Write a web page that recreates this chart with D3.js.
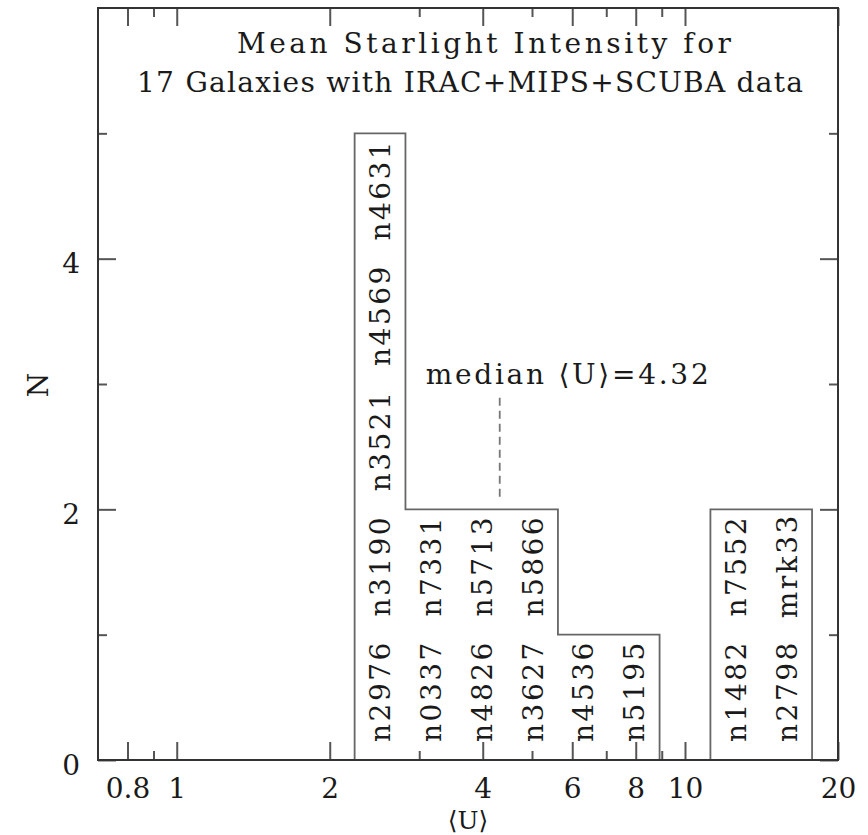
<!DOCTYPE html>
<html lang="en">
<head>
<meta charset="UTF-8"/>
<title>Mean Starlight Intensity</title>
<script src="https://d3js.org/d3.v7.min.js"></script>
<style>
  body { margin: 0; background: #fff; }
  svg text { font-family: "DejaVu Serif", serif; fill: #1a1a1a; font-size: 28px; }
  .tick line { stroke: #555; stroke-width: 2px; }
  .domain { display: none; }
  .step { fill: none; stroke: #666; stroke-width: 1.8px; }
  .frame { fill: none; stroke: #333; stroke-width: 2px; }
  .median { stroke: #777; stroke-width: 1.8px; stroke-dasharray: 8,5; }
</style>
</head>
<body>
<script>
var w = 868, h = 835;

// log10 <U> at the centre of each 0.1 dex bin
var binCentres = [0.4, 0.5, 0.6, 0.7, 0.8, 0.9, 1.1, 1.2];
var binCounts = [5, 2, 2, 2, 1, 1, 2, 2];
var binGalaxies = [
    ["n2976", "n3190", "n3521", "n4569", "n4631"],
    ["n0337", "n7331"],
    ["n4826", "n5713"],
    ["n3627", "n5866"],
    ["n4536"],
    ["n5195"],
    ["n1482", "n7552"],
    ["n2798", "mrk33"]
];
var binWidth = 0.1;
var medianU = 4.32;

var xMajor = [0.8, 1, 2, 4, 6, 8, 10, 20];
var xMinor = [0.9, 3, 5, 7, 9];
var yMajor = [0, 2, 4];
var yMinor = [1, 3, 5];

var titleLines = ["Mean Starlight Intensity for", "17 Galaxies with IRAC+MIPS+SCUBA data"];

var x = d3.scaleLog().domain([0.7, 20]).range([98, 838]);
var y = d3.scaleLinear().domain([0, 6]).range([760, 8]);

var svg = d3.select("body").append("svg")
    .attr("width", w)
    .attr("height", h);

// ticks (all pointing inward)
function addAxis(axis, tx, ty) {
    return svg.append("g")
        .attr("transform", "translate(" + tx + "," + ty + ")")
        .call(axis);
}
addAxis(d3.axisBottom(x).tickValues(xMajor).tickSize(-18).tickPadding(18)
    .tickFormat(d3.format("")), 0, y(0));
addAxis(d3.axisBottom(x).tickValues(xMinor).tickSize(-9).tickFormat(""), 0, y(0));
addAxis(d3.axisTop(x).tickValues(xMajor).tickSize(-18).tickFormat(""), 0, y(6));
addAxis(d3.axisTop(x).tickValues(xMinor).tickSize(-9).tickFormat(""), 0, y(6));

addAxis(d3.axisLeft(y).tickValues(yMajor).tickSize(-18).tickPadding(18)
    .tickFormat(d3.format("d")), x(0.7), 0)
    .selectAll("text").attr("dy", "0.5em");
addAxis(d3.axisLeft(y).tickValues(yMinor).tickSize(-9).tickFormat(""), x(0.7), 0);
addAxis(d3.axisRight(y).tickValues(yMajor).tickSize(-18).tickFormat(""), x(20), 0);
addAxis(d3.axisRight(y).tickValues(yMinor).tickSize(-9).tickFormat(""), x(20), 0);

// histogram outline, split where bins are not contiguous
var groups = [];
var prevHi = null;
binCentres.forEach(function(c, i) {
    var lo = c - binWidth / 2, hi = c + binWidth / 2;
    if (prevHi === null || Math.abs(lo - prevHi) > 1e-6) {
        if (groups.length) groups[groups.length - 1].push([prevHi, 0]);
        groups.push([[lo, 0]]);
    }
    var g = groups[groups.length - 1];
    g.push([lo, binCounts[i]]);
    g.push([hi, binCounts[i]]);
    prevHi = hi;
});
groups[groups.length - 1].push([prevHi, 0]);

var line = d3.line()
    .x(function(d) { return x(Math.pow(10, d[0])); })
    .y(function(d) { return y(d[1]); });

svg.selectAll(".step")
    .data(groups)
    .enter().append("path")
    .attr("class", "step")
    .attr("d", line);

// galaxy names stacked in each bin
binCentres.forEach(function(c, i) {
    binGalaxies[i].forEach(function(name, j) {
        svg.append("text")
            .attr("transform", "translate(" + (x(Math.pow(10, c)) + 10) + "," + y(j + 0.55) + ") rotate(-90)")
            .attr("text-anchor", "middle")
            .style("letter-spacing", "2.5px")
            .text(name);
    });
});

// median marker
svg.append("line")
    .attr("class", "median")
    .attr("x1", x(medianU)).attr("x2", x(medianU))
    .attr("y1", y(2.1)).attr("y2", y(2.9));
svg.append("text")
    .attr("x", x(medianU) - 74)
    .attr("y", 384)
    .attr("textLength", 283)
    .attr("lengthAdjust", "spacing")
    .text("median \u27E8U\u27E9=" + medianU);

// title
svg.selectAll(".title")
    .data(titleLines)
    .enter().append("text")
    .attr("class", "title")
    .attr("x", function(d, i) { return i === 0 ? 237 : 137; })
    .attr("y", function(d, i) { return 53 + i * 39; })
    .attr("textLength", function(d, i) { return i === 0 ? 494 : 666; })
    .attr("lengthAdjust", "spacing")
    .text(function(d) { return d; });

// axis labels
svg.append("text")
    .attr("x", 468).attr("y", 829)
    .attr("text-anchor", "middle")
    .style("font-size", "25px")
    .text("\u27E8U\u27E9");
svg.append("text")
    .attr("transform", "translate(48,385) rotate(-90)")
    .attr("text-anchor", "middle")
    .text("N");

// frame
svg.append("rect")
    .attr("class", "frame")
    .attr("x", x(0.7)).attr("y", y(6))
    .attr("width", x(20) - x(0.7))
    .attr("height", y(0) - y(6));
</script>
</body>
</html>
